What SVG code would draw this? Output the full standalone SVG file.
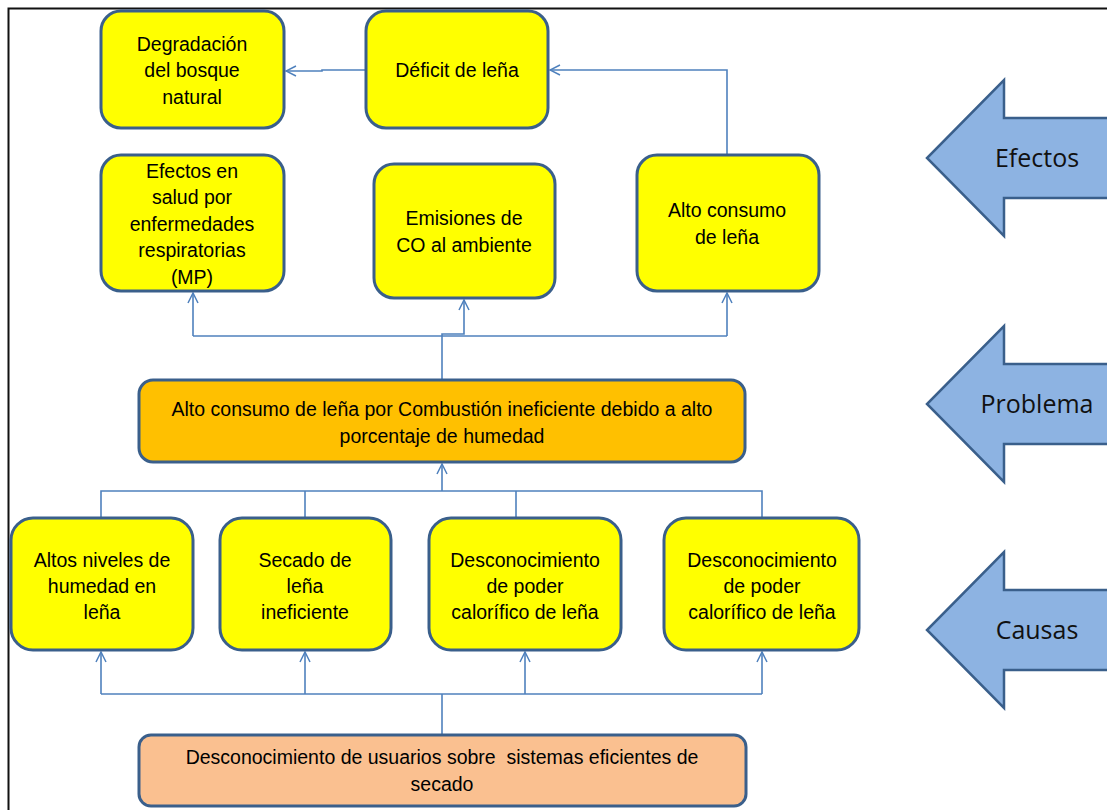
<svg xmlns="http://www.w3.org/2000/svg" width="1107" height="810" viewBox="0 0 1107 810">
<defs>
<style>
.box{stroke:#3A5F8B;stroke-width:3}
.y{fill:#FFFF00}
.o{fill:#FFC000}
.p{fill:#FAC090}
.t{font-family:"Liberation Sans",Arial,sans-serif;font-size:19.5px;fill:#000;text-anchor:middle}
.s{font-family:"Open Sans","Liberation Sans",sans-serif;font-size:25px;fill:#111;text-anchor:middle}
.c{fill:none;stroke:#4F81BD;stroke-width:1.6}
.big{fill:#8DB3E2;stroke:#3A5F8B;stroke-width:2.5}
</style>
<marker id="ah" viewBox="0 0 12 12" refX="11" refY="6" markerWidth="12" markerHeight="12" markerUnits="userSpaceOnUse" orient="auto">
<path d="M1,1 L11,6 L1,11" fill="none" stroke="#4F81BD" stroke-width="1.5"/>
</marker>
</defs>
<rect x="0" y="0" width="1107" height="810" fill="#fff"/>
<rect x="8.5" y="8.5" width="1200" height="900" fill="none" stroke="#111" stroke-width="2"/>

<g id="connectors">
<path class="c" d="M366,70 H322 V71 H286" marker-end="url(#ah)"/>
<path class="c" d="M727,155 V70 H550" marker-end="url(#ah)"/>
<path class="c" d="M442,380 V336"/>
<path class="c" d="M193,336 H727"/>
<path class="c" d="M193,336 V293" marker-end="url(#ah)"/>
<path class="c" d="M442,336 V334 H464 V300" marker-end="url(#ah)"/>
<path class="c" d="M727,336 V293" marker-end="url(#ah)"/>
<path class="c" d="M442,491 V464" marker-end="url(#ah)"/>
<path class="c" d="M101,518 V491 H762 V518"/>
<path class="c" d="M305,491 V518"/>
<path class="c" d="M516,491 V518"/>
<path class="c" d="M442,735 V694"/>
<path class="c" d="M101,694 H762"/>
<path class="c" d="M101,694 V652" marker-end="url(#ah)"/>
<path class="c" d="M305,694 V652" marker-end="url(#ah)"/>
<path class="c" d="M525,694 V652" marker-end="url(#ah)"/>
<path class="c" d="M762,694 V652" marker-end="url(#ah)"/>
</g>

<g id="degradacion">
<rect class="box y" x="101" y="11" width="183" height="117" rx="20"/>
<text class="t" x="192" y="51">Degradación</text>
<text class="t" x="192" y="77">del bosque</text>
<text class="t" x="192" y="104">natural</text>
</g>
<g id="deficit">
<rect class="box y" x="366" y="11" width="182" height="117" rx="20"/>
<text class="t" x="457" y="77">Déficit de leña</text>
</g>
<g id="efectos-salud">
<rect class="box y" x="101" y="155" width="183" height="136" rx="20"/>
<text class="t" x="192" y="178">Efectos en</text>
<text class="t" x="192" y="204">salud por</text>
<text class="t" x="192" y="231">enfermedades</text>
<text class="t" x="192" y="257">respiratorias</text>
<text class="t" x="192" y="284">(MP)</text>
</g>
<g id="emisiones">
<rect class="box y" x="374" y="164" width="181" height="134" rx="20"/>
<text class="t" x="464" y="225">Emisiones de</text>
<text class="t" x="464" y="252">CO al ambiente</text>
</g>
<g id="alto-consumo">
<rect class="box y" x="637" y="155" width="182" height="136" rx="20"/>
<text class="t" x="727" y="217">Alto consumo</text>
<text class="t" x="727" y="244">de leña</text>
</g>
<g id="problema">
<rect class="box o" x="139" y="380" width="606" height="82" rx="14"/>
<text class="t" x="442" y="416">Alto consumo de leña por Combustión ineficiente debido a alto</text>
<text class="t" x="442" y="443">porcentaje de humedad</text>
</g>
<g id="causa1">
<rect class="box y" x="11" y="518" width="182" height="132" rx="22"/>
<text class="t" x="102" y="567">Altos niveles de</text>
<text class="t" x="102" y="593">humedad en</text>
<text class="t" x="102" y="619">leña</text>
</g>
<g id="causa2">
<rect class="box y" x="220" y="518" width="171" height="132" rx="22"/>
<text class="t" x="305" y="567">Secado de</text>
<text class="t" x="305" y="593">leña</text>
<text class="t" x="305" y="619">ineficiente</text>
</g>
<g id="causa3">
<rect class="box y" x="429" y="518" width="192" height="132" rx="22"/>
<text class="t" x="525" y="567">Desconocimiento</text>
<text class="t" x="525" y="593">de poder</text>
<text class="t" x="525" y="619">calorífico de leña</text>
</g>
<g id="causa4">
<rect class="box y" x="664" y="518" width="195" height="132" rx="22"/>
<text class="t" x="762" y="567">Desconocimiento</text>
<text class="t" x="762" y="593">de poder</text>
<text class="t" x="762" y="619">calorífico de leña</text>
</g>
<g id="causa-raiz">
<rect class="box p" x="139" y="735" width="607" height="71" rx="12"/>
<text class="t" x="442" y="764" xml:space="preserve">Desconocimiento de usuarios sobre  sistemas eficientes de</text>
<text class="t" x="442" y="791">secado</text>
</g>

<g id="flecha-efectos">
<path class="big" d="M1120,118 H1004 V80 L927,158 L1004,236 V198 H1120 Z"/>
<text class="s" x="1037" y="167">Efectos</text>
</g>
<g id="flecha-problema">
<path class="big" d="M1120,364 H1004 V326 L927,404 L1004,482 V444 H1120 Z"/>
<text class="s" x="1037" y="413">Problema</text>
</g>
<g id="flecha-causas">
<path class="big" d="M1120,590 H1004 V552 L927,630 L1004,708 V670 H1120 Z"/>
<text class="s" x="1037" y="639">Causas</text>
</g>
</svg>
